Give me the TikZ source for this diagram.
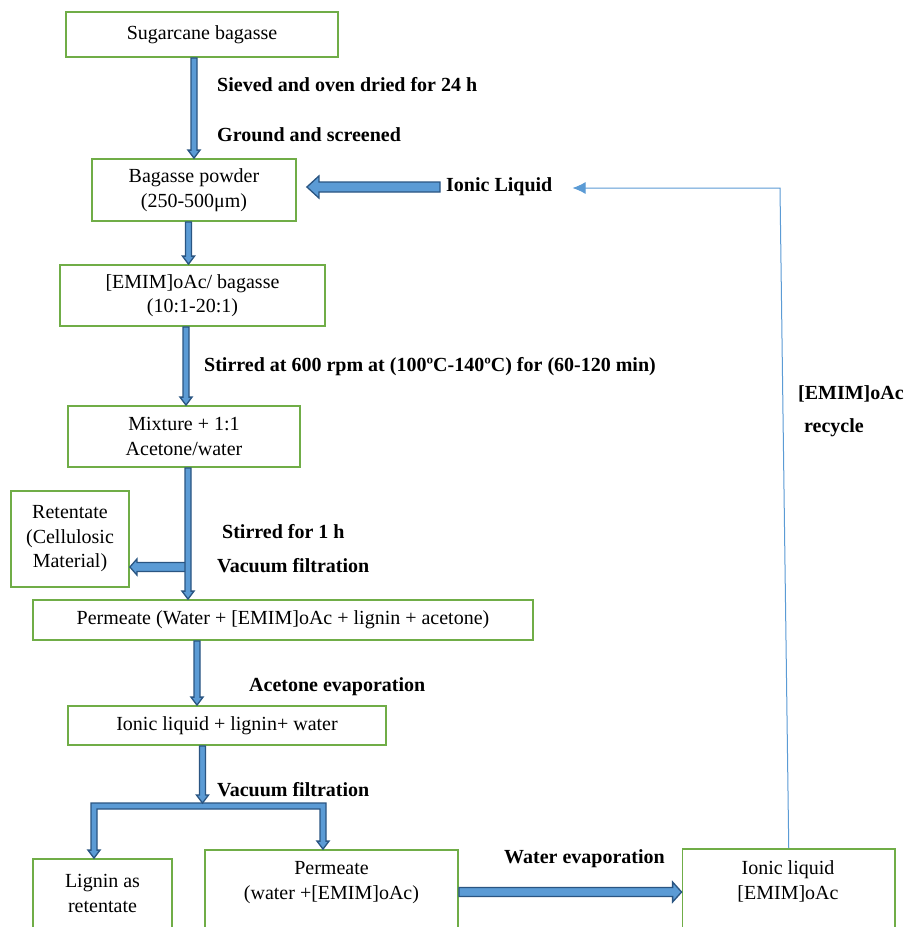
\documentclass[tikz,border=0pt]{standalone}
\usepackage{fontspec}
\setmainfont{Liberation Serif}
\usetikzlibrary{calc,arrows.meta}
\definecolor{boxgreen}{HTML}{70AD47}
\definecolor{arrfill}{HTML}{5B9BD5}
\definecolor{arrline}{HTML}{2A5582}
\definecolor{recyc}{HTML}{5B9BD5}
\tikzset{
 box/.style={draw=boxgreen, line width=1.8pt, align=center, inner sep=0pt, font=\fontsize{20}{24.5}\selectfont},
 txt/.style={align=center, inner sep=0pt, font=\fontsize{20}{25}\selectfont},
 lbl/.style={anchor=west, inner sep=0pt, font=\fontsize{20}{24}\selectfont\bfseries},
 fat/.style={fill=arrfill, draw=arrline, line width=1.3pt, line join=miter},
 recycle/.style={draw=recyc, line width=1pt, -{Latex[length=13pt,width=12pt]}}
}
% #1 from, #2 to, #3 half shaft, #4 half head, #5 head length
\newcommand\fatdown[5]{\filldraw[fat] let \p1=#1, \p2=#2 in (\x1-#3,\y1) -- (\x1-#3,\y2+#5) -- (\x1-#4,\y2+#5) -- (\x1,\y2) -- (\x1+#4,\y2+#5) -- (\x1+#3,\y2+#5) -- (\x1+#3,\y1) -- cycle;}
\newcommand\fatleft[5]{\filldraw[fat] let \p1=#1, \p2=#2 in (\x1,\y1+#3) -- (\x2+#5,\y1+#3) -- (\x2+#5,\y1+#4) -- (\x2,\y1) -- (\x2+#5,\y1-#4) -- (\x2+#5,\y1-#3) -- (\x1,\y1-#3) -- cycle;}
\newcommand\fatright[5]{\filldraw[fat] let \p1=#1, \p2=#2 in (\x1,\y1+#3) -- (\x2-#5,\y1+#3) -- (\x2-#5,\y1+#4) -- (\x2,\y1) -- (\x2-#5,\y1-#4) -- (\x2-#5,\y1-#3) -- (\x1,\y1-#3) -- cycle;}
\begin{document}
\begin{tikzpicture}[x=1pt,y=-1pt]
\useasboundingbox (0,0) rectangle (904,927);
\fill[white] (0,0) rectangle (904,927);
\clip (0,0) rectangle (904,927);

% boxes
\node[box, minimum width=272pt, minimum height=45pt] (sb) at (202,34.5) {Sugarcane bagasse};
\node[box, minimum width=204pt, minimum height=62pt] (bp) at (194,190) {Bagasse powder\\(250-500μm)};
\node[box, minimum width=265pt, minimum height=61pt] (em) at (192.5,295.5) {[EMIM]oAc/ bagasse\\(10:1-20:1)};
\node[box, minimum width=232pt, minimum height=61pt] (mx) at (184,436.5) {Mixture + 1:1\\Acetone/water};
\node[box, minimum width=118pt, minimum height=96pt] (rt) at (70,539) {Retentate\\(Cellulosic\\Material)};
\node[box, minimum width=500pt, minimum height=40pt] (pm) at (283,620) {Permeate (Water + [EMIM]oAc + lignin + acetone)};
\node[box, minimum width=318pt, minimum height=39pt] (il) at (227,725.5) {Ionic liquid + lignin+ water};
\node[box, minimum width=139pt, minimum height=101pt] (lg) at (102.5,909.5) {};
\node[box, minimum width=253pt, minimum height=110pt] (pe) at (331.5,905) {};
\node[box, minimum width=212.5pt, minimum height=111pt] (ion) at (788.75,904.5) {};
\node[txt] (lgt) at (102.5,893) {Lignin as\\retentate};
\node[txt] (pet) at (331.5,882.5) {Permeate\\(water +[EMIM]oAc)};
\node[txt] (iont) at (788,881.5) {Ionic liquid\\{}[EMIM]oAc};

% labels
\node[lbl] (l1) at (217,85) {Sieved and oven dried for 24 h};
\node[lbl] (l2) at (217,135) {Ground and screened};
\node[lbl] (ilq) at (446,187) {Ionic Liquid};
\node[lbl] (l3) at (204,367) {Stirred at 600 rpm at (100ºC-140ºC) for (60-120 min)};
\node[lbl] (l4) at (798,394) {[EMIM]oAc};
\node[lbl] (l5) at (804,428) {recycle};
\node[lbl] (l6) at (222,532) {Stirred for 1 h};
\node[lbl] (l7) at (217,566) {Vacuum filtration};
\node[lbl] (l8) at (249,687) {Acetone evaporation};
\node[lbl] (l9) at (217,790) {Vacuum filtration};
\node[lbl] (l10) at (504,859) {Water evaporation};

% coordinates
\coordinate (split) at (202.5,803);
\coordinate (br) at (188,567);
\coordinate (rc) at (780,188);
\coordinate (rtip) at ([xshift=20pt]ilq.east);

% fat arrows
\fatdown{(sb.south -| bp.north)}{(bp.north)}{3pt}{6pt}{8pt}
\fatdown{([xshift=-5.5pt]bp.south)}{(em.north)}{3pt}{6pt}{8pt}
\fatdown{([xshift=-6.5pt]em.south)}{(mx.north)}{3pt}{6pt}{8pt}
\fatleft{(br)}{(rt.east)}{4.5pt}{8pt}{7pt}
\fatdown{([xshift=4pt]mx.south)}{(pm.north)}{3pt}{6pt}{8pt}
\fatdown{([xshift=-86pt]pm.south)}{(il.north)}{3pt}{6pt}{8pt}
\filldraw[fat] let \p1=([xshift=-8.5pt]lg.north), \p2=([xshift=-8.5pt]pe.north), \p3=(split) in
  (\x1-3pt,\y3) -- (\x2+3pt,\y3) -- (\x2+3pt,\y2+8pt) -- (\x2+6pt,\y2+8pt) -- (\x2,\y2)
  -- (\x2-6pt,\y2+8pt) -- (\x2-3pt,\y2+8pt) -- (\x2-3pt,\y3-6pt) -- (\x1+3pt,\y3-6pt)
  -- (\x1+3pt,\y1+8pt) -- (\x1+6pt,\y1+8pt) -- (\x1,\y1) -- (\x1-6pt,\y1+8pt)
  -- (\x1-3pt,\y1+8pt) -- cycle;
\fatdown{([xshift=-24.5pt]il.south)}{(split)}{3pt}{6pt}{8pt}
\fatright{([yshift=13pt]pe.east)}{(ion.west)}{4.5pt}{10pt}{9pt}
\fatleft{([xshift=-6pt]ilq.west)}{([xshift=10pt]bp.east)}{5pt}{11pt}{12pt}

% recycle line
\draw[recycle] (ion.north) -- (rc) -- (rc -| rtip);
\end{tikzpicture}
\end{document}
